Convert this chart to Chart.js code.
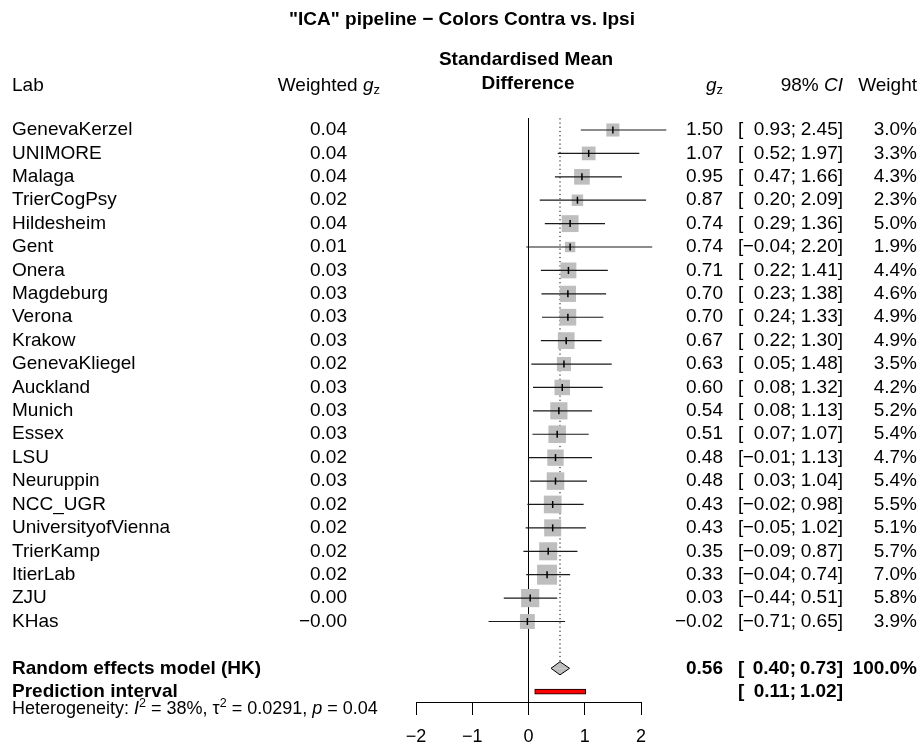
<!DOCTYPE html>
<html>
<head>
<meta charset="utf-8">
<script src="https://cdn.jsdelivr.net/npm/chart.js@4.4.0/dist/chart.umd.min.js"></script>
<style>
  html, body { margin: 0; padding: 0; background: #fff; }
</style>
</head>
<body>
<canvas id="forest" width="921" height="744"></canvas>
<script>
// forest plot data
const labs = ['GenevaKerzel','UNIMORE','Malaga','TrierCogPsy','Hildesheim','Gent','Onera','Magdeburg',
  'Verona','Krakow','GenevaKliegel','Auckland','Munich','Essex','LSU','Neuruppin','NCC_UGR',
  'UniversityofVienna','TrierKamp','ItierLab','ZJU','KHas'];
const weightedGz = ['0.04','0.04','0.04','0.02','0.04','0.01','0.03','0.03','0.03','0.03','0.02',
  '0.03','0.03','0.03','0.02','0.03','0.02','0.02','0.02','0.02','0.00','\u22120.00'];
const gz = [1.50,1.07,0.95,0.87,0.74,0.74,0.71,0.70,0.70,0.67,0.63,0.60,0.54,0.51,0.48,0.48,0.43,0.43,0.35,0.33,0.03,-0.02];
const ciLow = [0.93,0.52,0.47,0.20,0.29,-0.04,0.22,0.23,0.24,0.22,0.05,0.08,0.08,0.07,-0.01,0.03,-0.02,-0.05,-0.09,-0.04,-0.44,-0.71];
const ciHigh = [2.45,1.97,1.66,2.09,1.36,2.20,1.41,1.38,1.33,1.30,1.48,1.32,1.13,1.07,1.13,1.04,0.98,1.02,0.87,0.74,0.51,0.65];
const weights = [3.0,3.3,4.3,2.3,5.0,1.9,4.4,4.6,4.9,4.9,3.5,4.2,5.2,5.4,4.7,5.4,5.5,5.1,5.7,7.0,5.8,3.9];
const pooledEst = 0.56;
const pooledCi = [0.40, 0.73];
const predInterval = [0.11, 1.02];
const hetI2 = 38, hetTau2 = 0.0291, hetP = 0.04;
const xTicks = [-2, -1, 0, 1, 2];
const tickLabels = ['\u22122', '\u22121', '0', '1', '2'];

const F = '"Liberation Sans", Arial, sans-serif';
const fmt = v => (v < 0 ? '\u2212' : '') + Math.abs(v).toFixed(2);
const nRows = labs.length;
const pooledRow = nRows + 1, predRow = nRows + 2;
const yTop = -0.5, yMax = 24.44, diamondHalf = 0.28;

// CI segments in one dataset, broken by null points
const ciPts = [];
labs.forEach((l, i) => { ciPts.push({x: ciLow[i], y: i}, {x: ciHigh[i], y: i}, {x: null, y: null}); });

function runs(ctx, parts, x, y, align) {
  let total = 0;
  parts.forEach(p => { ctx.font = p[1]; total += ctx.measureText(p[0]).width; });
  let cx = align === 'right' ? x - total : align === 'center' ? x - total / 2 : x;
  ctx.textAlign = 'left';
  parts.forEach(p => { ctx.font = p[1]; ctx.fillText(p[0], cx, y + (p[2] || 0)); cx += ctx.measureText(p[0]).width; });
}

function ciText(ctx, lo, hi, y, font) {
  runs(ctx, [['[', font]], 738, y, 'left');
  runs(ctx, [[fmt(lo) + ';', font]], 796, y, 'right');
  runs(ctx, [[fmt(hi) + ']', font]], 843, y, 'right');
}

const textPlugin = {
  id: 'forestText',
  afterDraw(chart) {
    const ctx = chart.ctx, ys = chart.scales.y;
    const reg = '19px ' + F, bold = 'bold 19px ' + F, ital = 'italic 19px ' + F, small = '13px ' + F;
    const hreg = '18px ' + F, hital = 'italic 18px ' + F, hsmall = '12.5px ' + F;
    ctx.save();
    ctx.fillStyle = '#000';
    ctx.textBaseline = 'middle';
    // title and headers
    runs(ctx, [['"ICA" pipeline \u2212 Colors Contra vs. Ipsi', bold]], 462, 20, 'center');
    runs(ctx, [['Standardised Mean', bold]], 526, 60, 'center');
    runs(ctx, [['Difference', bold]], 528, 84, 'center');
    runs(ctx, [['Lab', reg]], 12, 86, 'left');
    runs(ctx, [['Weighted ', reg], ['g', ital], ['z', small, 4]], 380, 86, 'right');
    runs(ctx, [['g', ital], ['z', small, 4]], 723, 86, 'right');
    runs(ctx, [['98% ', reg], ['CI', ital]], 843, 86, 'right');
    runs(ctx, [['Weight', reg]], 917, 86, 'right');
    // study rows
    labs.forEach((l, i) => {
      const y = ys.getPixelForValue(i);
      runs(ctx, [[l, reg]], 12, y, 'left');
      runs(ctx, [[weightedGz[i], reg]], 347, y, 'right');
      runs(ctx, [[fmt(gz[i]), reg]], 723, y, 'right');
      ciText(ctx, ciLow[i], ciHigh[i], y, reg);
      runs(ctx, [[weights[i].toFixed(1) + '%', reg]], 917, y, 'right');
    });
    // pooled rows
    let y = ys.getPixelForValue(pooledRow);
    runs(ctx, [['Random effects model (HK)', bold]], 12, y, 'left');
    runs(ctx, [[fmt(pooledEst), bold]], 723, y, 'right');
    ciText(ctx, pooledCi[0], pooledCi[1], y, bold);
    runs(ctx, [['100.0%', bold]], 917, y, 'right');
    y = ys.getPixelForValue(predRow);
    runs(ctx, [['Prediction interval', bold]], 12, y, 'left');
    ciText(ctx, predInterval[0], predInterval[1], y, bold);
    y = ys.getPixelForValue(predRow + 0.76);
    runs(ctx, [['Heterogeneity: ', hreg], ['I', hital], ['2', hsmall, -6], [' = ' + hetI2 + '%, ', hreg],
      ['\u03c4', hreg], ['2', hsmall, -6], [' = ' + hetTau2.toFixed(4) + ', ', hreg], ['p', hital],
      [' = ' + hetP.toFixed(2), hreg]], 12, y, 'left');
    ctx.restore();
  }
};

const lineBase = {type: 'line', pointRadius: 0, borderColor: '#000', borderWidth: 1, fill: false, tension: 0, clip: false};

new Chart(document.getElementById('forest'), {
  type: 'line',
  data: {
    datasets: [
      Object.assign({}, lineBase, {data: [{x: 0, y: yTop}, {x: 0, y: yMax}], order: 9}),
      Object.assign({}, lineBase, {data: [{x: pooledEst, y: yTop}, {x: pooledEst, y: pooledRow - diamondHalf}],
        borderDash: [1.2, 3], borderColor: '#000', order: 8}),
      {type: 'line', showLine: false, clip: false, order: 7,
        data: gz.map((v, i) => ({x: v, y: i})),
        pointStyle: 'rect', pointRadius: weights.map(w => 5.34 * Math.sqrt(w)),
        pointBackgroundColor: '#bebebe', pointBorderColor: '#bebebe', pointBorderWidth: 0},
      Object.assign({}, lineBase, {data: ciPts, borderColor: '#1a1a1a', borderWidth: 1.2, spanGaps: false, order: 6}),
      {type: 'line', showLine: false, clip: false, order: 5,
        data: gz.map((v, i) => ({x: v, y: i})),
        pointStyle: 'line', pointRotation: 90, pointRadius: 3.5,
        pointBorderColor: '#000', pointBorderWidth: 1.5},
      Object.assign({}, lineBase, {order: 4, backgroundColor: '#bebebe', fill: {value: pooledRow},
        data: [{x: pooledCi[0], y: pooledRow}, {x: pooledEst, y: pooledRow - diamondHalf}, {x: pooledCi[1], y: pooledRow}]}),
      Object.assign({}, lineBase, {order: 3, backgroundColor: '#bebebe', fill: {value: pooledRow},
        data: [{x: pooledCi[0], y: pooledRow}, {x: pooledEst, y: pooledRow + diamondHalf}, {x: pooledCi[1], y: pooledRow}]}),
      {type: 'bar', indexAxis: 'y', order: 2, clip: false,
        data: [{x: predInterval, y: predRow}],
        backgroundColor: 'red', borderColor: '#000', borderWidth: 1, borderSkipped: false, barThickness: 5}
    ]
  },
  options: {
    responsive: false,
    animation: false,
    events: [],
    layout: {padding: {left: 416, right: 280, top: 106.6, bottom: 0}},
    plugins: {legend: {display: false}, tooltip: {enabled: false}},
    scales: {
      x: {
        type: 'linear', min: -2, max: 2, position: 'bottom',
        afterBuildTicks: s => { s.ticks = xTicks.map(v => ({value: v})); },
        afterFit: s => { s.height = 42; },
        grid: {display: true, drawOnChartArea: false, drawTicks: true, tickLength: 13, color: '#000', lineWidth: 1},
        border: {display: true, color: '#000', width: 1},
        ticks: {autoSkip: false, maxRotation: 0, padding: 11, color: '#000', font: {family: F, size: 18},
          callback: v => tickLabels[xTicks.indexOf(v)]}
      },
      y: {type: 'linear', reverse: true, min: -1, max: yMax, display: false, offset: false, grid: {offset: false}}
    }
  },
  plugins: [textPlugin]
});
</script>
</body>
</html>
